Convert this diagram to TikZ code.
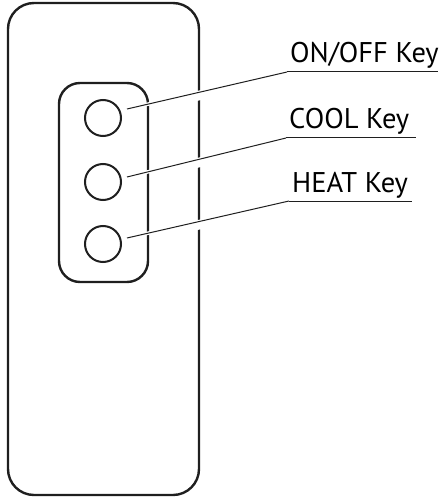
\documentclass[tikz,border=0pt]{standalone}
\usepackage{fontspec}
\setmainfont{PT Sans}
\usetikzlibrary{calc}
\begin{document}
\begin{tikzpicture}[x=1pt,y=-1pt,
    shell/.style={draw=black!88,line width=2.4pt,rounded corners=26pt},
    pad/.style={draw=black!88,line width=2.4pt,rounded corners=21pt},
    btn/.style={circle,draw=black!88,line width=2pt,minimum size=36pt,inner sep=0pt},
    lbl/.style={anchor=base west,inner sep=0pt,font=\fontsize{28.5}{32}\selectfont},
    lead/.style={draw=black!88,line width=1pt,preaction={draw=white,line width=3.5pt}}]
  \useasboundingbox (0,0) rectangle (442,497);
  % the remote and its key pad
  \draw[shell] (8,3) rectangle (199,495);
  \draw[pad] (59,83) rectangle (148,282);
  % the keys
  \node[btn] (on)   at (103,118) {};
  \node[btn] (cool) at (103,182) {};
  \node[btn] (heat) at (103,244) {};
  % the labels
  \node[lbl] (on-l)   at (290,63)  {ON/OFF Key};
  \node[lbl] (cool-l) at (289,129) {COOL Key};
  \node[lbl] (heat-l) at (292,192) {HEAT Key};
  % the leaders
  \foreach \k/\w/\d in {on/151/-9,cool/130/-5,heat/123/-6}{
    \coordinate (\k-a) at ($(\k)+(24,\d)$);
    \coordinate (\k-b) at ($(\k-l.base west)+(-3,9)$);
    \coordinate (\k-c) at ($(\k-b)+(\w,0)$);
    \begin{scope}
      \clip (194,0) rectangle (204,497);
      \draw[white,line width=8pt] ($(\k-a)+(0,4)$) -- ($(\k-b)+(0,4)$);
    \end{scope}
    \draw[lead] (\k-a) -- (\k-b);
    \draw[black!88,line width=1pt] (\k-b) -- (\k-c);
  }
\end{tikzpicture}
\end{document}
